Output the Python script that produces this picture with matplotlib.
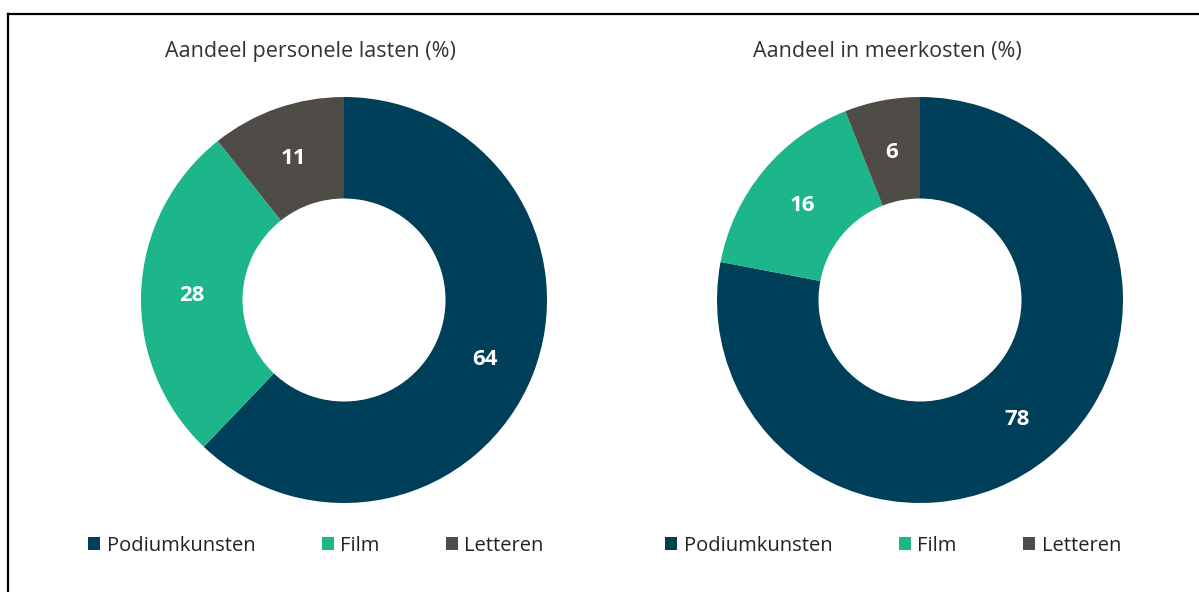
import matplotlib.pyplot as plt
from matplotlib.lines import Line2D

categories = ["Podiumkunsten", "Film", "Letteren"]
personeel = [64, 28, 11]
meerkosten = [78, 16, 6]
titles = ["Aandeel personele lasten (%)", "Aandeel in meerkosten (%)"]
colors = ["#003f5a", "#1db68b", "#4f4c48"]

plt.rcParams["font.family"] = ["Open Sans", "DejaVu Sans"]

W, H = 1199, 592
fig = plt.figure(figsize=(W / 100, H / 100), dpi=100)

# frame lines along top and left edge
fig.add_artist(Line2D([8 / W, 1], [1 - 14 / H, 1 - 14 / H], color="black", lw=1.6, transform=fig.transFigure))
fig.add_artist(Line2D([8 / W, 8 / W], [0, 1 - 14 / H], color="black", lw=1.6, transform=fig.transFigure))

R = 203
panels = [
    (personeel, titles[0], 344, 310, 88),
    (meerkosten, titles[1], 920, 887, 665),
]

for values, title, cx, tx, lx in panels:
    cy = 300
    ax = fig.add_axes([(cx - R) / W, 1 - (cy + R) / H, 2 * R / W, 2 * R / H])
    wedges, texts = ax.pie(
        values,
        labels=[str(v) for v in values],
        colors=colors,
        startangle=90,
        counterclock=False,
        radius=1,
        labeldistance=0.75,
        wedgeprops=dict(width=0.5, linewidth=0),
        textprops=dict(color="white", fontsize=16, fontweight="bold"),
    )
    for t in texts:
        t.set_horizontalalignment("center")
        t.set_verticalalignment("center_baseline")
    ax.set_xlim(-1, 1)
    ax.set_ylim(-1, 1)
    ax.set_aspect("equal")

    fig.text(tx / W, 1 - 51 / H, title, ha="center", va="center", fontsize=15.5, color="#333333")

    fig.legend(
        wedges,
        categories,
        loc="center left",
        bbox_to_anchor=(lx / W, 1 - 546 / H),
        ncol=3,
        frameon=False,
        fontsize=14.5,
        handlelength=0.62,
        handleheight=0.62,
        handletextpad=0.3,
        columnspacing=3.3,
        borderaxespad=0,
        borderpad=0,
        labelcolor="#222222",
    )

fig.savefig("out.png", dpi=100)
